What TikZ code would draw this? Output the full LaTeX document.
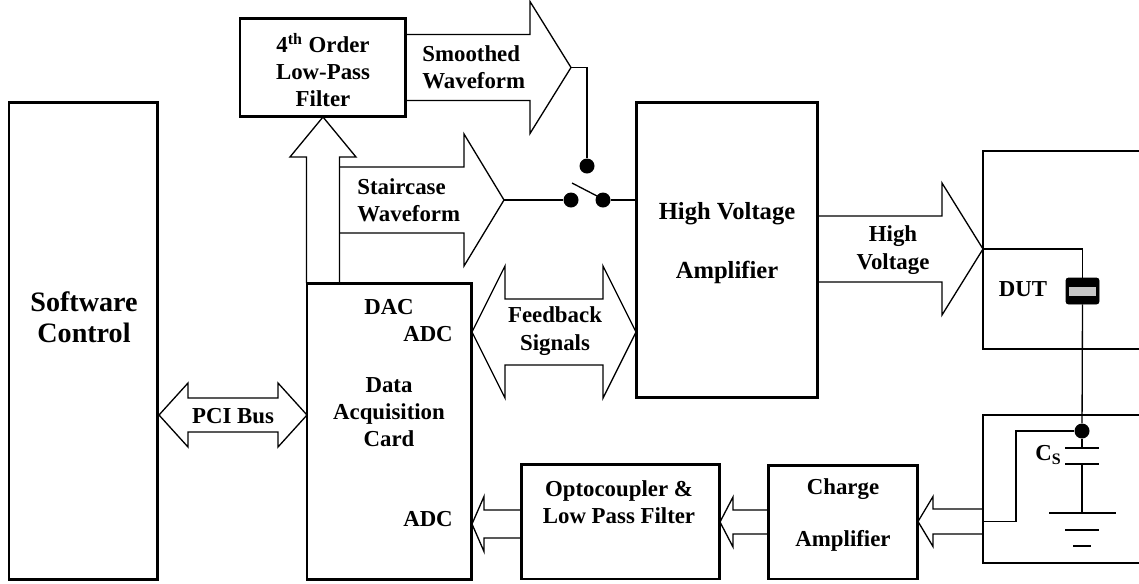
\documentclass[tikz,border=0pt]{standalone}
\usepackage{fontspec}
\setmainfont{Liberation Serif}
\usetikzlibrary{calc}

\tikzset{
  block/.style={draw, line width=1.7pt, outer sep=0pt, inner sep=0pt, anchor=north west},
  wire/.style={line width=0.75pt},
  lbl/.style={font=\bfseries\fontsize{13}{15.5}\selectfont, align=center, inner sep=0pt},
  dot/.style={circle, fill, inner sep=0pt, minimum size=0.3cm},
}

% tail, tip, shaft half width, head half width, head length (negative: pointing left)
\newcommand{\blockarrow}[5]{%
  \draw[wire] ($(#1 |- #2)+(0,-#3)$) -- ($(#2)+({-(#5)},-#3)$) -- ($(#2)+({-(#5)},-#4)$) -- (#2)
    -- ($(#2)+({-(#5)},#4)$) -- ($(#2)+({-(#5)},#3)$) -- ($(#1 |- #2)+(0,#3)$);}

% left tip, right tip, shaft half width, head half width, head length
\newcommand{\dblarrow}[5]{%
  \draw[wire] (#1) -- ($(#1)+(#5,-#4)$) -- ($(#1)+(#5,-#3)$) -- ($(#2)+(-#5,-#3)$) -- ($(#2)+(-#5,-#4)$)
    -- (#2) -- ($(#2)+(-#5,#4)$) -- ($(#2)+(-#5,#3)$) -- ($(#1)+(#5,#3)$) -- ($(#1)+(#5,#4)$) -- cycle;}

\begin{document}
\begin{tikzpicture}[x=0.02cm, y=-0.02cm]
            \useasboundingbox (0,0) rectangle (1139,583);

            % blocks
            \node[block, minimum width=2.98cm, minimum height=9.56cm] (soft) at (9,102) {};
            \node[block, minimum width=3.30cm, minimum height=5.94cm] (daq) at (307,283) {};
            \node[block, minimum width=3.32cm, minimum height=1.98cm] (filt) at (240,18) {};
            \node[block, minimum width=3.64cm, minimum height=5.92cm] (hva) at (636,102) {};
            \node[block, minimum width=3.98cm, minimum height=2.30cm] (opto) at (521,464) {};
            \node[block, minimum width=3.00cm, minimum height=2.28cm] (charge) at (768,465) {};

            % open boxes on the right
            \draw[wire] (1139,151) -| (983,349) -- (1139,349);
            \draw[wire] (1139,415) -| (983,563) -- (1139,563);

            % arrow tips
            \coordinate (pcil) at (159,415);
            \coordinate (pcir) at (307,415);
            \coordinate (fbl) at (472,332);
            \coordinate (fbr) at (636,332);
            \coordinate (smtip) at (571,67.5);
            \coordinate (sttip) at (504,200);
            \coordinate (hvtip) at (983,249);
            \coordinate (adcin) at (472,524);
            \coordinate (optoin) at (720,522);
            \coordinate (chin) at (918,521.5);
            \coordinate (cstail) at (983,521.5);
            \coordinate (upright) at ($(filt.south)+(16.5,40)$);

            % block arrows
            \dblarrow{pcil}{pcir}{17}{32}{29}
            \dblarrow{fbl}{fbr}{33}{66}{33}
            \draw[wire] ($(filt.south |- daq.north)+(-16.5,0)$) -- ($(filt.south)+(-16.5,40)$) -- ($(filt.south)+(-33,40)$)
              -- (filt.south) -- ($(filt.south)+(33,40)$) -- (upright) -- ($(filt.south |- daq.north)+(16.5,0)$);
            \blockarrow{filt.east}{smtip}{33}{66}{41}
            \blockarrow{upright}{sttip}{33}{66}{40}
            \blockarrow{hva.east}{hvtip}{33}{66}{41}
            \blockarrow{opto.west}{adcin}{14}{27.5}{-12}
            \blockarrow{charge.west}{optoin}{12}{25}{-13}
            \blockarrow{cstail}{chin}{12.5}{25}{-15}

            % switch
            \node[dot] (swa) at (587,166) {};
            \node[dot] (swb) at (571,200) {};
            \node[dot] (swc) at (603,200) {};
            \draw[wire] (smtip) -| (swa);
            \draw[wire] (sttip) -- (swb);
            \draw[wire] (swc) -- (swc -| hva.west);
            \draw[wire] ($(swb)+(1,-17)$) -- ($(swc)+(-6,-4)$);

            % DUT and sense capacitor
            \node[draw, fill=black, line width=0.5pt, rounded corners=1.5pt, minimum width=0.66cm, minimum height=0.52cm, inner sep=0pt] (dutcap) at (1082.5,291) {};
            \fill[gray!45] ($(dutcap.center)+(-13.5,-4.5)$) rectangle ($(dutcap.center)+(13.5,4.5)$);
            \node[dot] (csdot) at (1082,431) {};
            \draw[wire] (hvtip) -| (dutcap.north);
            \draw[wire] (dutcap.south) -- (csdot);
            \draw[wire] (cstail) -- ++(33,0) |- (csdot);
            \draw[wire] (csdot) -- (1082,448);
            \draw[wire] (1065,448) -- (1099,448);
            \draw[wire] (1065,464) -- (1099,464);
            \draw[wire] (1082,464) -- (1082,513);
            \draw[wire] (1049,513) -- (1116,513);
            \draw[wire] (1065,530) -- (1099,530);
            \draw[wire] (1073,546) -- (1091,546);

            % labels
            \node[lbl, font=\bfseries\fontsize{16}{17.6}\selectfont] (softlbl) at (84,317) {Software\\Control};
            \node[lbl] (pcilbl) at (233,416) {PCI Bus};
            \node[lbl] (filtlbl) at (323,70) {4\textsuperscript{th} Order\\Low-Pass\\Filter};
            \node[lbl, align=left, anchor=west] (smlbl) at (422,67) {Smoothed\\Waveform};
            \node[lbl, align=left, anchor=west] (stlbl) at (357,200) {Staircase\\Waveform};
            \node[lbl] (fblbl) at (555,331) {Feedback\\Signals};
            \node[lbl, font=\bfseries\fontsize{14}{34}\selectfont] (hvalbl) at (727,243) {High Voltage\\Amplifier};
            \node[lbl] (hvlbl) at (893,250) {High\\Voltage};
            \node[lbl] (dutlbl) at (1023,289) {DUT};
            \node[lbl, anchor=east] (cslbl) at (1062,455) {C\textsubscript{S}};
            \node[lbl] (daclbl) at (389,307) {DAC};
            \node[lbl] (adclbl) at (428,334) {ADC};
            \node[lbl] (daqlbl) at (389,412) {Data\\Acquisition\\Card};
            \node[lbl] (adcinlbl) at (428,519) {ADC};
            \node[lbl] (optolbl) at (619,502) {Optocoupler \&\\Low Pass Filter};
            \node[lbl, font=\bfseries\fontsize{13}{30}\selectfont] (chlbl) at (843,515) {Charge\\Amplifier};

        \end{tikzpicture}
\end{document}
